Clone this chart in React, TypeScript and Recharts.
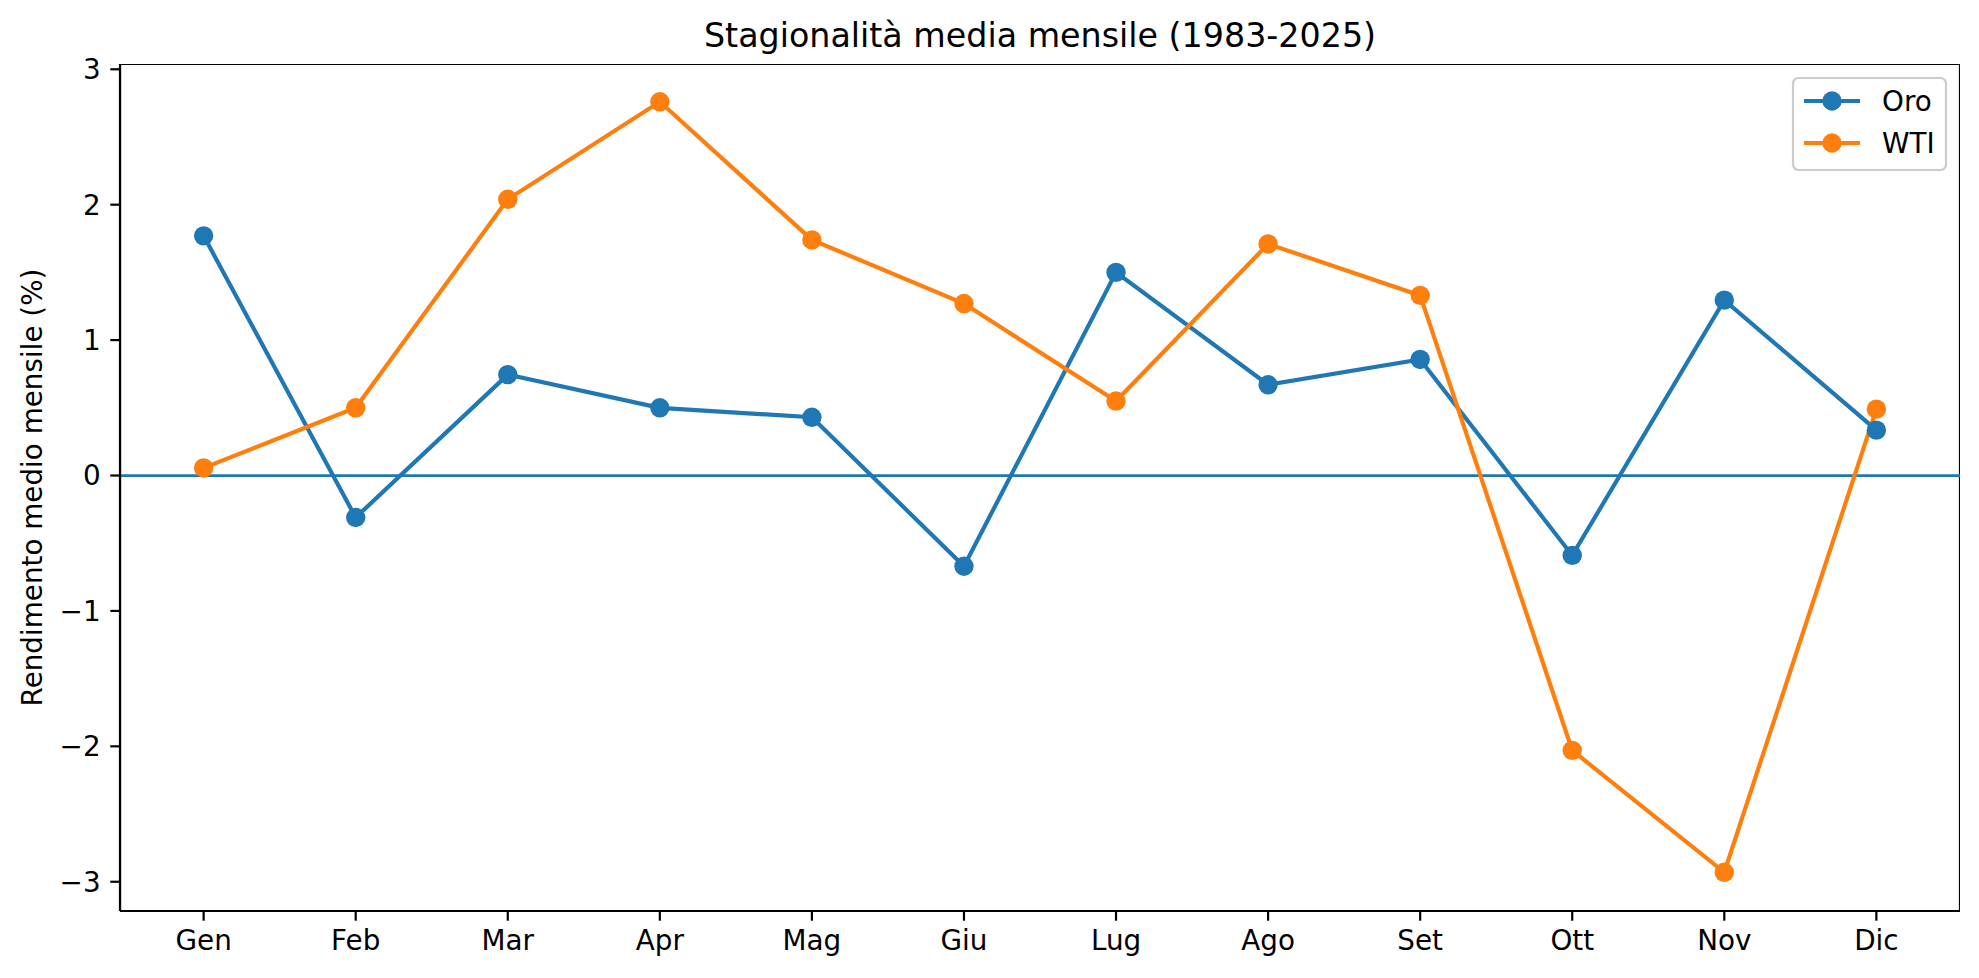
import React from 'react';
import { LineChart, Line, XAxis, YAxis, ReferenceLine, ReferenceArea, Customized } from 'recharts';

const months = ['Gen', 'Feb', 'Mar', 'Apr', 'Mag', 'Giu', 'Lug', 'Ago', 'Set', 'Ott', 'Nov', 'Dic'];
const oro = [1.77, -0.31, 0.745, 0.5, 0.43, -0.67, 1.5, 0.67, 0.857, -0.59, 1.295, 0.335];
const wti = [0.056, 0.5, 2.04, 2.76, 1.74, 1.27, 0.55, 1.71, 1.33, -2.03, -2.93, 0.49];
const yTicks = [-3, -2, -1, 0, 1, 2, 3];
const xTicks = months.map((_, i) => i);

const data = months.map((m, i) => ({ x: i, month: m, oro: oro[i], wti: wti[i] }));

const BLUE = '#1f77b4';
const ORANGE = '#ff7f0e';
const FONT = 'DejaVu Sans';
const FS = 27.8;
const LW = 4.17;
const R = 9.7;
const TICK = 9.7;

const fmtY = (v: number) => (v < 0 ? '\u2212' + Math.abs(v) : String(v));

const Overlay = () => (
  <g>
    <text x={1040} y={47.3} textAnchor="middle" fontFamily={FONT} fontSize={33.3} fill="#000">
      Stagionalità media mensile (1983-2025)
    </text>
    <text
      x={32.5}
      y={487.5}
      textAnchor="middle"
      dominantBaseline="central"
      fontFamily={FONT}
      fontSize={FS}
      fill="#000"
      transform="rotate(-90, 32.5, 487.5)"
    >
      Rendimento medio mensile (%)
    </text>
    <rect x={1793} y={78} width={153} height={92} rx={5.5} ry={5.5} fill="#fff" fillOpacity={0.8} stroke="#cccccc" strokeWidth={2.2} />
    <line x1={1804} x2={1860} y1={101} y2={101} stroke={BLUE} strokeWidth={LW} />
    <circle cx={1832} cy={101} r={R} fill={BLUE} />
    <text x={1882} y={101} dominantBaseline="central" fontFamily={FONT} fontSize={FS} fill="#000">Oro</text>
    <line x1={1804} x2={1860} y1={143} y2={143} stroke={ORANGE} strokeWidth={LW} />
    <circle cx={1832} cy={143} r={R} fill={ORANGE} />
    <text x={1882} y={143} dominantBaseline="central" fontFamily={FONT} fontSize={FS} fill="#000">WTI</text>
  </g>
);

export default function App() {
  return (
    <div style={{ position: 'absolute', left: 0, top: 0, background: '#fff' }}>
      <LineChart width={1979} height={978} data={data} margin={{ top: 64, right: 19, bottom: 27, left: 0 }}>
        <XAxis
          dataKey="x"
          type="number"
          domain={[-0.55, 11.55]}
          ticks={xTicks}
          tickFormatter={(v: number) => months[v]}
          allowDataOverflow
          height={40}
          tickSize={TICK}
          tickMargin={TICK}
          stroke="#000"
          strokeWidth={2.2}
          tick={{ fill: '#000', fontSize: FS, fontFamily: FONT }}
          interval={0}
        />
        <YAxis
          type="number"
          domain={[-3.216, 3.039]}
          ticks={yTicks}
          tickFormatter={fmtY}
          allowDataOverflow
          width={120}
          tickSize={TICK}
          tickMargin={TICK}
          stroke="#000"
          strokeWidth={2.2}
          tick={{ fill: '#000', fontSize: FS, fontFamily: FONT }}
          interval={0}
        />
        <ReferenceArea x1={-0.55} x2={11.55} y1={-3.216} y2={3.039} fill="none" stroke="#000" strokeWidth={2.2} ifOverflow="hidden" />
        <ReferenceLine y={0} stroke={BLUE} strokeWidth={2.78} />
        <Line
          dataKey="oro"
          stroke={BLUE}
          strokeWidth={LW}
          dot={{ r: R, fill: BLUE, stroke: 'none' }}
          activeDot={false}
          isAnimationActive={false}
        />
        <Line
          dataKey="wti"
          stroke={ORANGE}
          strokeWidth={LW}
          dot={{ r: R, fill: ORANGE, stroke: 'none' }}
          activeDot={false}
          isAnimationActive={false}
        />
        <Customized component={Overlay} />
      </LineChart>
    </div>
  );
}
